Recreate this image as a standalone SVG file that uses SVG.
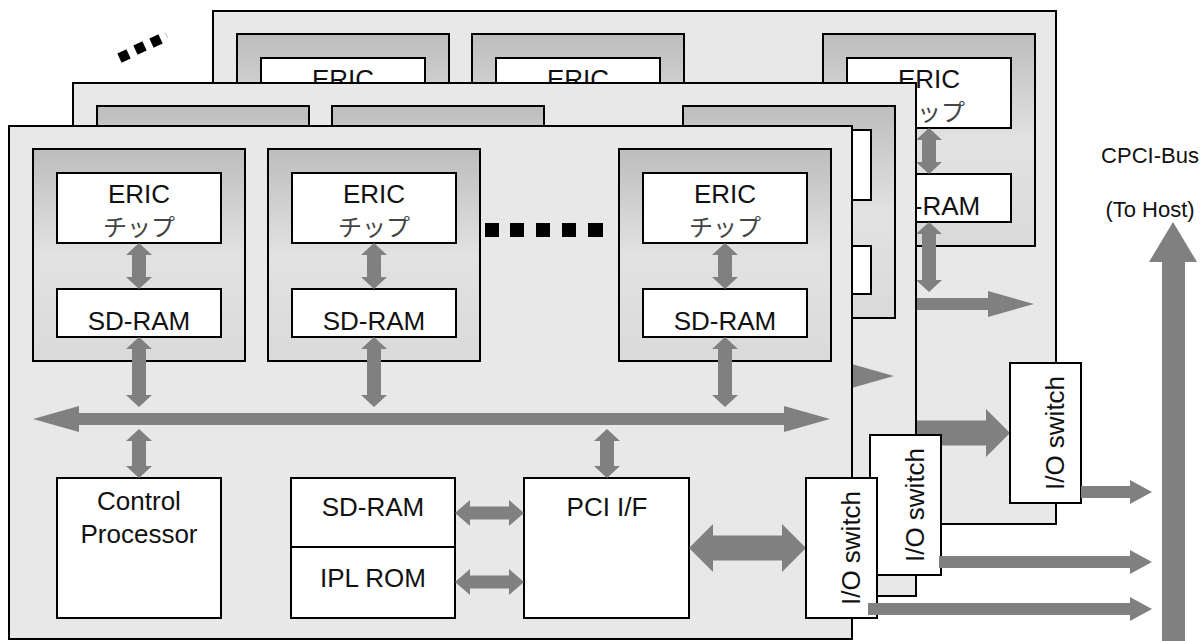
<svg xmlns="http://www.w3.org/2000/svg" xmlns:xlink="http://www.w3.org/1999/xlink" width="1203" height="641" viewBox="0 0 1203 641">
<defs>
<linearGradient id="modGrad" x1="0" y1="0" x2="0" y2="1">
<stop offset="0" stop-color="#bdbdbd"/>
<stop offset="0.5" stop-color="#e2e2e2"/>
<stop offset="1" stop-color="#dadada"/>
</linearGradient>
<style>
.board{fill:#e8e8e8;stroke:#000;stroke-width:2}
.mod{fill:url(#modGrad);stroke:#000;stroke-width:2}
.box{fill:#fff;stroke:#000;stroke-width:2}
.arr{fill:#808080;stroke:none}
.t{font-family:"Liberation Sans",Arial,sans-serif;font-size:26px;fill:#111;text-anchor:middle}
.jp{font-family:"Noto Sans CJK JP","Noto Sans CJK SC",sans-serif;font-size:24px;fill:#444;text-anchor:middle}
.lbl{font-family:"Liberation Sans",Arial,sans-serif;font-size:22px;fill:#111;text-anchor:middle}
.dot{fill:#000}
</style>
</defs>
<rect width="1203" height="641" fill="#fff"/>

<g id="dots-boards">
<rect class="dot" x="119" y="51" width="10" height="10" transform="rotate(-25 124 56)"/>
<rect class="dot" x="135" y="43" width="10" height="10" transform="rotate(-25 140 48)"/>
<rect class="dot" x="151" y="36" width="10" height="10" transform="rotate(-25 156 41)"/>
<line x1="165" y1="33" x2="168" y2="38" stroke="#bbb" stroke-width="1"/>
</g>

<use id="board3" xlink:href="#board1" href="#board1" transform="translate(204,-115)"/>
<use id="board2" xlink:href="#board1" href="#board1" transform="translate(64,-43)"/>

<g id="board1">
<rect class="board" x="9" y="126" width="843" height="513"/>
<g id="module1">
<rect class="mod" x="33" y="149" width="212" height="212"/>
<rect class="box" x="57" y="173" width="164" height="70"/>
<text class="t" x="139" y="203">ERIC</text>
<text class="jp" x="139" y="236">チップ</text>
<rect class="box" x="57" y="289" width="164" height="48"/>
<text class="t" x="139" y="330">SD-RAM</text>
</g>
<g id="module2">
<rect class="mod" x="268" y="149" width="212" height="212"/>
<rect class="box" x="292" y="173" width="164" height="70"/>
<text class="t" x="374" y="203">ERIC</text>
<text class="jp" x="374" y="236">チップ</text>
<rect class="box" x="292" y="289" width="164" height="48"/>
<text class="t" x="374" y="330">SD-RAM</text>
</g>
<g id="ellipsis">
<rect class="dot" x="485" y="223" width="14" height="14"/>
<rect class="dot" x="510" y="223" width="14" height="14"/>
<rect class="dot" x="536" y="223" width="14" height="14"/>
<rect class="dot" x="562" y="223" width="14" height="14"/>
<rect class="dot" x="588" y="223" width="15" height="14"/>
</g>
<g id="module3">
<rect class="mod" x="619" y="149" width="212" height="212"/>
<rect class="box" x="643" y="173" width="164" height="70"/>
<text class="t" x="725" y="203">ERIC</text>
<text class="jp" x="725" y="236">チップ</text>
<rect class="box" x="643" y="289" width="164" height="48"/>
<text class="t" x="725" y="330">SD-RAM</text>
</g>
<g id="control-processor">
<rect class="box" x="57" y="478" width="164" height="140"/>
<text class="t" x="139" y="510">Control</text>
<text class="t" x="139" y="543">Processor</text>
</g>
<g id="memory">
<rect class="box" x="291" y="478" width="164" height="140"/>
<line x1="291" y1="547" x2="455" y2="547" stroke="#000" stroke-width="2"/>
<text class="t" x="373" y="516">SD-RAM</text>
<text class="t" x="373" y="587">IPL ROM</text>
</g>
<g id="pci-if">
<rect class="box" x="524" y="478" width="165" height="140"/>
<text class="t" x="607" y="516">PCI I/F</text>
</g>
<g id="board1-connectors">
<path class="arr" d="M139 243 L152 255 L146 255 L146 277 L152 277 L139 289 L126 277 L132 277 L132 255 L126 255 Z"/>
<path class="arr" d="M374 243 L387 255 L381 255 L381 277 L387 277 L374 289 L361 277 L367 277 L367 255 L361 255 Z"/>
<path class="arr" d="M725 243 L738 255 L732 255 L732 277 L738 277 L725 289 L712 277 L718 277 L718 255 L712 255 Z"/>
<path class="arr" d="M139 337 L152 349 L146 349 L146 395 L152 395 L139 407 L126 395 L132 395 L132 349 L126 349 Z"/>
<path class="arr" d="M374 337 L387 349 L381 349 L381 395 L387 395 L374 407 L361 395 L367 395 L367 349 L361 349 Z"/>
<path class="arr" d="M725 337 L738 349 L732 349 L732 395 L738 395 L725 407 L712 395 L718 395 L718 349 L712 349 Z"/>
<path class="arr" d="M33 419 L79 406 L79 413 L784 413 L784 406 L830 419 L784 432 L784 425 L79 425 L79 432 Z"/>
<path class="arr" d="M139 429 L152 441 L146 441 L146 466 L152 466 L139 478 L126 466 L132 466 L132 441 L126 441 Z"/>
<path class="arr" d="M607 429 L620 441 L614 441 L614 466 L620 466 L607 478 L594 466 L600 466 L600 441 L594 441 Z"/>
<path class="arr" d="M455 513 L470 500 L470 506.5 L509 506.5 L509 500 L524 513 L509 526 L509 519.5 L470 519.5 L470 526 Z"/>
<path class="arr" d="M455 582 L470 569 L470 575.5 L509 575.5 L509 569 L524 582 L509 595 L509 588.5 L470 588.5 L470 595 Z"/>
<path class="arr" d="M689 548 L713 524 L713 535.5 L782 535.5 L782 524 L806 548 L782 572 L782 560.5 L713 560.5 L713 572 Z"/>
</g>
<g id="io-switch">
<rect class="box" x="806" y="478" width="71" height="140"/>
<text class="t" transform="translate(860 548) rotate(-90)">I/O switch</text>
</g>
</g>

<g id="connectors">
<path class="arr" d="M1081 486 L1130 486 L1130 480 L1152 492 L1130 504 L1130 498 L1081 498 Z"/>
<path class="arr" d="M939 556 L1130 556 L1130 550 L1152 562 L1130 574 L1130 568 L939 568 Z"/>
<path class="arr" d="M868 603 L1130 603 L1130 597 L1152 609 L1130 621 L1130 615 L868 615 Z"/>
<path class="arr" d="M1173 222 L1197 262 L1185 262 L1185 641 L1162 641 L1162 262 L1149 262 Z"/>
</g>

<g id="cpci-bus">
<text class="lbl" x="1150" y="163">CPCI-Bus</text>
<text class="lbl" x="1150" y="217">(To Host)</text>
</g>
</svg>
